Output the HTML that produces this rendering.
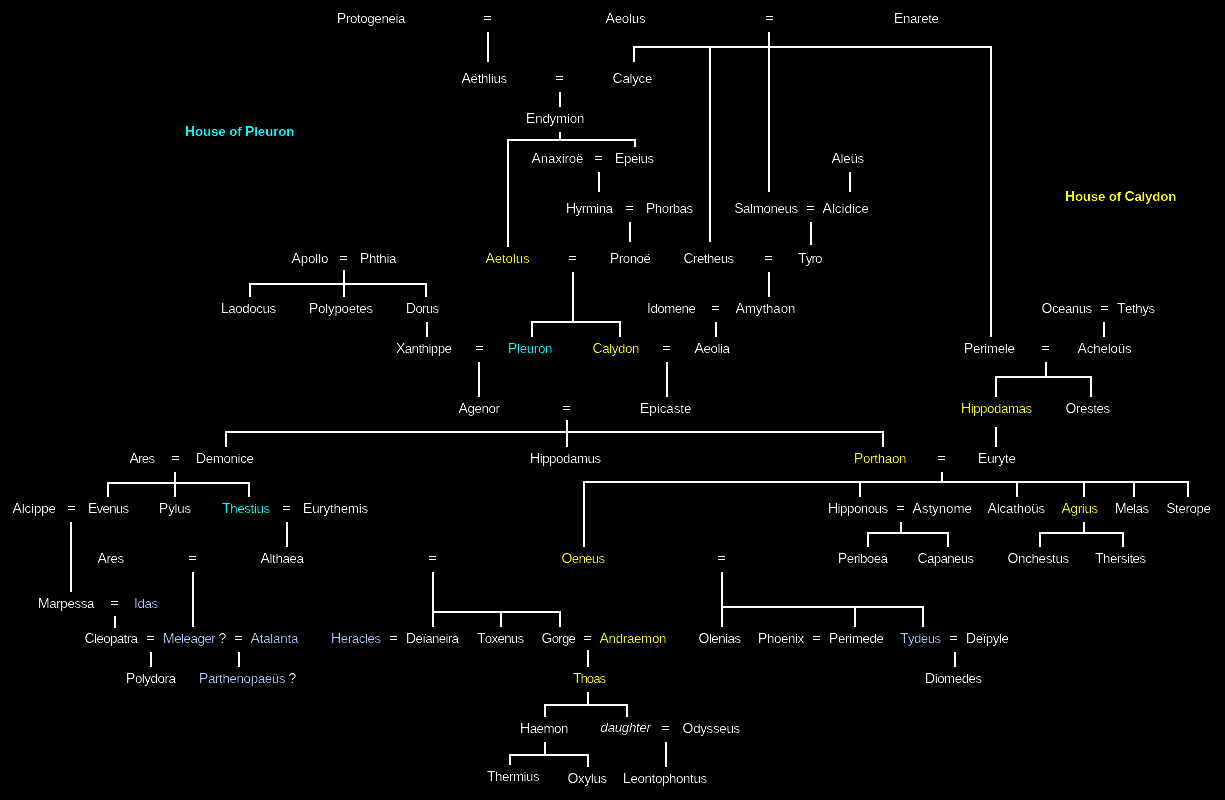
<!DOCTYPE html>
<html><head><meta charset="utf-8"><title>Houses of Pleuron and Calydon</title>
<style>
html,body{margin:0;padding:0;background:#000;}
body{width:1225px;height:800px;position:relative;overflow:hidden;font-family:"Liberation Sans",sans-serif;font-size:13.33px;color:#fff;}
.t{position:absolute;white-space:nowrap;line-height:20px;height:20px;}
.t b{font-weight:inherit;font-size:14px;}
.b{font-weight:bold;}
.i{font-style:italic;}
.w{color:#fff;}
#txt{position:absolute;left:0;top:0;width:1225px;height:800px;will-change:transform;filter:url(#th);}
.e{position:absolute;width:7px;height:2px;border-top:1px solid #fff;border-bottom:1px solid #fff;}
.l{position:absolute;background:#fff;}
</style></head><body>
<svg width="0" height="0" style="position:absolute"><filter id="th" x="0" y="0" width="100%" height="100%" color-interpolation-filters="sRGB"><feComponentTransfer><feFuncA type="gamma" amplitude="1.3" exponent="2.5" offset="0"/></feComponentTransfer></filter></svg>
<!-- connector lines -->
<div class="l" style="left:487px;top:32px;width:2px;height:30px"></div>
<div class="l" style="left:559px;top:92px;width:2px;height:15px"></div>
<div class="l" style="left:559px;top:132px;width:2px;height:9px"></div>
<div class="l" style="left:507px;top:139px;width:2px;height:108px"></div>
<div class="l" style="left:634px;top:139px;width:2px;height:8px"></div>
<div class="l" style="left:598px;top:172px;width:2px;height:20px"></div>
<div class="l" style="left:629px;top:222px;width:2px;height:20px"></div>
<div class="l" style="left:768px;top:32px;width:2px;height:160px"></div>
<div class="l" style="left:633px;top:46px;width:2px;height:16px"></div>
<div class="l" style="left:709px;top:46px;width:2px;height:196px"></div>
<div class="l" style="left:990px;top:46px;width:2px;height:291px"></div>
<div class="l" style="left:849px;top:172px;width:2px;height:20px"></div>
<div class="l" style="left:810px;top:222px;width:2px;height:23px"></div>
<div class="l" style="left:768px;top:272px;width:2px;height:25px"></div>
<div class="l" style="left:715px;top:322px;width:2px;height:15px"></div>
<div class="l" style="left:343px;top:270px;width:2px;height:27px"></div>
<div class="l" style="left:249px;top:283px;width:2px;height:14px"></div>
<div class="l" style="left:425px;top:283px;width:2px;height:14px"></div>
<div class="l" style="left:426px;top:322px;width:2px;height:15px"></div>
<div class="l" style="left:478px;top:362px;width:2px;height:35px"></div>
<div class="l" style="left:572px;top:272px;width:2px;height:50px"></div>
<div class="l" style="left:531px;top:321px;width:2px;height:16px"></div>
<div class="l" style="left:619px;top:321px;width:2px;height:16px"></div>
<div class="l" style="left:666px;top:362px;width:2px;height:35px"></div>
<div class="l" style="left:566px;top:420px;width:2px;height:27px"></div>
<div class="l" style="left:225px;top:431px;width:2px;height:16px"></div>
<div class="l" style="left:882px;top:431px;width:2px;height:16px"></div>
<div class="l" style="left:1103px;top:322px;width:2px;height:15px"></div>
<div class="l" style="left:1045px;top:362px;width:2px;height:16px"></div>
<div class="l" style="left:995px;top:376px;width:2px;height:21px"></div>
<div class="l" style="left:1090px;top:376px;width:2px;height:21px"></div>
<div class="l" style="left:995px;top:427px;width:2px;height:20px"></div>
<div class="l" style="left:941px;top:472px;width:2px;height:11px"></div>
<div class="l" style="left:583px;top:481px;width:2px;height:66px"></div>
<div class="l" style="left:859px;top:481px;width:2px;height:16px"></div>
<div class="l" style="left:1016px;top:481px;width:2px;height:16px"></div>
<div class="l" style="left:1083px;top:481px;width:2px;height:16px"></div>
<div class="l" style="left:1133px;top:481px;width:2px;height:16px"></div>
<div class="l" style="left:1187px;top:481px;width:2px;height:16px"></div>
<div class="l" style="left:174px;top:472px;width:2px;height:25px"></div>
<div class="l" style="left:107px;top:482px;width:2px;height:15px"></div>
<div class="l" style="left:248px;top:482px;width:2px;height:15px"></div>
<div class="l" style="left:70px;top:522px;width:2px;height:70px"></div>
<div class="l" style="left:286px;top:522px;width:2px;height:25px"></div>
<div class="l" style="left:192px;top:572px;width:2px;height:55px"></div>
<div class="l" style="left:114px;top:616px;width:2px;height:12px"></div>
<div class="l" style="left:150px;top:652px;width:2px;height:15px"></div>
<div class="l" style="left:238px;top:652px;width:2px;height:15px"></div>
<div class="l" style="left:432px;top:572px;width:2px;height:55px"></div>
<div class="l" style="left:500px;top:611px;width:2px;height:16px"></div>
<div class="l" style="left:559px;top:611px;width:2px;height:16px"></div>
<div class="l" style="left:721px;top:572px;width:2px;height:55px"></div>
<div class="l" style="left:854px;top:606px;width:2px;height:21px"></div>
<div class="l" style="left:922px;top:606px;width:2px;height:21px"></div>
<div class="l" style="left:900px;top:522px;width:2px;height:12px"></div>
<div class="l" style="left:867px;top:532px;width:2px;height:15px"></div>
<div class="l" style="left:947px;top:532px;width:2px;height:15px"></div>
<div class="l" style="left:1083px;top:522px;width:2px;height:12px"></div>
<div class="l" style="left:1039px;top:532px;width:2px;height:15px"></div>
<div class="l" style="left:1122px;top:532px;width:2px;height:15px"></div>
<div class="l" style="left:587px;top:650px;width:2px;height:17px"></div>
<div class="l" style="left:587px;top:692px;width:2px;height:14px"></div>
<div class="l" style="left:544px;top:704px;width:2px;height:13px"></div>
<div class="l" style="left:626px;top:704px;width:2px;height:13px"></div>
<div class="l" style="left:544px;top:742px;width:2px;height:14px"></div>
<div class="l" style="left:509px;top:754px;width:2px;height:11px"></div>
<div class="l" style="left:587px;top:754px;width:2px;height:13px"></div>
<div class="l" style="left:665px;top:742px;width:2px;height:25px"></div>
<div class="l" style="left:954px;top:652px;width:2px;height:15px"></div>
<div class="l" style="left:507px;top:139px;width:129px;height:2px"></div>
<div class="l" style="left:633px;top:46px;width:359px;height:2px"></div>
<div class="l" style="left:249px;top:283px;width:178px;height:2px"></div>
<div class="l" style="left:531px;top:321px;width:90px;height:2px"></div>
<div class="l" style="left:225px;top:431px;width:659px;height:2px"></div>
<div class="l" style="left:995px;top:376px;width:97px;height:2px"></div>
<div class="l" style="left:583px;top:481px;width:606px;height:2px"></div>
<div class="l" style="left:107px;top:482px;width:143px;height:2px"></div>
<div class="l" style="left:432px;top:611px;width:129px;height:2px"></div>
<div class="l" style="left:721px;top:606px;width:203px;height:2px"></div>
<div class="l" style="left:867px;top:532px;width:82px;height:2px"></div>
<div class="l" style="left:1039px;top:532px;width:85px;height:2px"></div>
<div class="l" style="left:544px;top:704px;width:84px;height:2px"></div>
<div class="l" style="left:509px;top:754px;width:80px;height:2px"></div>
<!-- marriage signs -->
<div class="e" style="left:484px;top:16px"></div>
<div class="e" style="left:766px;top:16px"></div>
<div class="e" style="left:556px;top:76px"></div>
<div class="e" style="left:595px;top:156px"></div>
<div class="e" style="left:626px;top:206px"></div>
<div class="e" style="left:807px;top:206px"></div>
<div class="e" style="left:340px;top:256px"></div>
<div class="e" style="left:569px;top:256px"></div>
<div class="e" style="left:765px;top:256px"></div>
<div class="e" style="left:712px;top:306px"></div>
<div class="e" style="left:1101px;top:306px"></div>
<div class="e" style="left:476px;top:346px"></div>
<div class="e" style="left:663px;top:346px"></div>
<div class="e" style="left:1042px;top:346px"></div>
<div class="e" style="left:563px;top:406px"></div>
<div class="e" style="left:172px;top:456px"></div>
<div class="e" style="left:938px;top:456px"></div>
<div class="e" style="left:68px;top:506px"></div>
<div class="e" style="left:283px;top:506px"></div>
<div class="e" style="left:897px;top:506px"></div>
<div class="e" style="left:189px;top:556px"></div>
<div class="e" style="left:429px;top:556px"></div>
<div class="e" style="left:718px;top:556px"></div>
<div class="e" style="left:111px;top:601px"></div>
<div class="e" style="left:147px;top:636px"></div>
<div class="e" style="left:235px;top:636px"></div>
<div class="e" style="left:390px;top:636px"></div>
<div class="e" style="left:584px;top:636px"></div>
<div class="e" style="left:813px;top:636px"></div>
<div class="e" style="left:950px;top:636px"></div>
<div class="e" style="left:662px;top:726px"></div>
<!-- names -->
<div id="txt">
<div class="t" style="left:337.00px;top:8px;letter-spacing:-0.392px;"><b>P</b>rotogeneia</div>
<div class="t" style="left:605.55px;top:8px;letter-spacing:-0.217px;"><b>A</b>eolus</div>
<div class="t" style="left:894.00px;top:8px;letter-spacing:-0.369px;"><b>E</b>narete</div>
<div class="t" style="left:461.55px;top:68px;letter-spacing:-0.321px;"><b>A</b>ëthlius</div>
<div class="t" style="left:612.55px;top:68px;letter-spacing:-0.272px;"><b>C</b>alyce</div>
<div class="t" style="left:526.00px;top:108px;letter-spacing:-0.186px;"><b>E</b>ndymion</div>
<div class="t b" style="left:185.00px;top:121px;color:#00ffff;letter-spacing:-0.128px;"><b>H</b>ouse of <b>P</b>leuron</div>
<div class="t" style="left:531.55px;top:148px;letter-spacing:-0.170px;"><b>A</b>naxiroë</div>
<div class="t" style="left:615.00px;top:148px;letter-spacing:-0.407px;"><b>E</b>peius</div>
<div class="t" style="left:831.55px;top:148px;letter-spacing:-0.293px;"><b>A</b>leüs</div>
<div class="t b" style="left:1065.00px;top:186px;color:#ffff00;letter-spacing:-0.195px;"><b>H</b>ouse of <b>C</b>alydon</div>
<div class="t" style="left:566.00px;top:198px;letter-spacing:-0.531px;"><b>H</b>yrmina</div>
<div class="t" style="left:646.00px;top:198px;letter-spacing:-0.488px;"><b>P</b>horbas</div>
<div class="t" style="left:734.15px;top:198px;letter-spacing:-0.389px;"><b>S</b>almoneus</div>
<div class="t" style="left:822.55px;top:198px;letter-spacing:-0.002px;"><b>A</b>lcidice</div>
<div class="t" style="left:291.55px;top:248px;letter-spacing:-0.127px;"><b>A</b>pollo</div>
<div class="t" style="left:360.00px;top:248px;letter-spacing:-0.365px;"><b>P</b>hthia</div>
<div class="t" style="left:485.55px;top:248px;color:#ffff00;letter-spacing:-0.132px;"><b>A</b>etolus</div>
<div class="t" style="left:610.00px;top:248px;letter-spacing:-0.503px;"><b>P</b>ronoë</div>
<div class="t" style="left:683.55px;top:248px;letter-spacing:-0.565px;"><b>C</b>retheus</div>
<div class="t" style="left:798.00px;top:248px;letter-spacing:-0.885px;"><b>T</b>yro</div>
<div class="t" style="left:221.00px;top:298px;letter-spacing:-0.430px;"><b>L</b>aodocus</div>
<div class="t" style="left:309.00px;top:298px;letter-spacing:-0.248px;"><b>P</b>olypoetes</div>
<div class="t" style="left:406.00px;top:298px;letter-spacing:-0.718px;"><b>D</b>orus</div>
<div class="t" style="left:647.00px;top:298px;letter-spacing:-0.524px;"><b>I</b>domene</div>
<div class="t" style="left:735.55px;top:298px;letter-spacing:-0.085px;"><b>A</b>mythaon</div>
<div class="t" style="left:1041.55px;top:298px;letter-spacing:-0.542px;"><b>O</b>ceanus</div>
<div class="t" style="left:1117.00px;top:298px;letter-spacing:-0.449px;"><b>T</b>ethys</div>
<div class="t" style="left:396.00px;top:338px;letter-spacing:-0.571px;"><b>X</b>anthippe</div>
<div class="t" style="left:508.00px;top:338px;color:#00ffff;letter-spacing:-0.329px;"><b>P</b>leuron</div>
<div class="t" style="left:592.55px;top:338px;color:#ffff00;letter-spacing:-0.420px;"><b>C</b>alydon</div>
<div class="t" style="left:694.55px;top:338px;letter-spacing:-0.427px;"><b>A</b>eolia</div>
<div class="t" style="left:964.00px;top:338px;letter-spacing:-0.304px;"><b>P</b>erimele</div>
<div class="t" style="left:1077.55px;top:338px;letter-spacing:-0.166px;"><b>A</b>cheloüs</div>
<div class="t" style="left:458.55px;top:398px;letter-spacing:-0.408px;"><b>A</b>genor</div>
<div class="t" style="left:640.00px;top:398px;letter-spacing:-0.022px;"><b>E</b>picaste</div>
<div class="t" style="left:961.00px;top:398px;color:#ffff00;letter-spacing:-0.461px;"><b>H</b>ippodamas</div>
<div class="t" style="left:1065.55px;top:398px;letter-spacing:-0.428px;"><b>O</b>restes</div>
<div class="t" style="left:129.55px;top:448px;letter-spacing:-0.746px;"><b>A</b>res</div>
<div class="t" style="left:196.00px;top:448px;letter-spacing:-0.368px;"><b>D</b>emonice</div>
<div class="t" style="left:530.00px;top:448px;letter-spacing:-0.461px;"><b>H</b>ippodamus</div>
<div class="t" style="left:854.00px;top:448px;color:#ffff00;letter-spacing:-0.304px;"><b>P</b>orthaon</div>
<div class="t" style="left:978.00px;top:448px;letter-spacing:-0.211px;"><b>E</b>uryte</div>
<div class="t" style="left:12.55px;top:498px;letter-spacing:-0.133px;"><b>A</b>lcippe</div>
<div class="t" style="left:88.00px;top:498px;letter-spacing:-0.748px;"><b>E</b>venus</div>
<div class="t" style="left:159.00px;top:498px;letter-spacing:-0.219px;"><b>P</b>ylus</div>
<div class="t" style="left:222.00px;top:498px;color:#00ffff;letter-spacing:-0.374px;"><b>T</b>hestius</div>
<div class="t" style="left:303.00px;top:498px;letter-spacing:-0.216px;"><b>E</b>urythemis</div>
<div class="t" style="left:828.00px;top:498px;letter-spacing:-0.506px;"><b>H</b>ipponous</div>
<div class="t" style="left:912.55px;top:498px;letter-spacing:-0.049px;"><b>A</b>stynome</div>
<div class="t" style="left:987.55px;top:498px;letter-spacing:-0.171px;"><b>A</b>lcathoüs</div>
<div class="t" style="left:1061.55px;top:498px;color:#ffff00;letter-spacing:-0.322px;"><b>A</b>grius</div>
<div class="t" style="left:1115.00px;top:498px;letter-spacing:-0.487px;"><b>M</b>elas</div>
<div class="t" style="left:1166.15px;top:498px;letter-spacing:-0.394px;"><b>S</b>terope</div>
<div class="t" style="left:97.55px;top:548px;letter-spacing:-0.413px;"><b>A</b>res</div>
<div class="t" style="left:260.55px;top:548px;letter-spacing:-0.382px;"><b>A</b>lthaea</div>
<div class="t" style="left:561.55px;top:548px;color:#ffff00;letter-spacing:-0.718px;"><b>O</b>eneus</div>
<div class="t" style="left:838.00px;top:548px;letter-spacing:-0.555px;"><b>P</b>eriboea</div>
<div class="t" style="left:917.55px;top:548px;letter-spacing:-0.662px;"><b>C</b>apaneus</div>
<div class="t" style="left:1007.55px;top:548px;letter-spacing:-0.328px;"><b>O</b>nchestus</div>
<div class="t" style="left:1095.00px;top:548px;letter-spacing:-0.507px;"><b>T</b>hersites</div>
<div class="t" style="left:38.00px;top:593px;letter-spacing:-0.381px;"><b>M</b>arpessa</div>
<div class="t" style="left:134.00px;top:593px;color:#aaccff;letter-spacing:-0.405px;"><b>I</b>das</div>
<div class="t" style="left:84.55px;top:628px;letter-spacing:-0.614px;"><b>C</b>leopatra</div>
<div class="t" style="left:163.00px;top:628px;color:#aaccff;letter-spacing:-0.481px;"><b>M</b>eleager<span class="w"> <b>?</b></span></div>
<div class="t" style="left:250.55px;top:628px;color:#aaccff;letter-spacing:-0.213px;"><b>A</b>talanta</div>
<div class="t" style="left:331.00px;top:628px;color:#aaccff;letter-spacing:-0.416px;"><b>H</b>eracles</div>
<div class="t" style="left:406.00px;top:628px;letter-spacing:-0.670px;"><b>D</b>eïaneira</div>
<div class="t" style="left:477.00px;top:628px;letter-spacing:-0.728px;"><b>T</b>oxenus</div>
<div class="t" style="left:541.55px;top:628px;letter-spacing:-0.801px;"><b>G</b>orge</div>
<div class="t" style="left:599.55px;top:628px;color:#ffff00;letter-spacing:-0.311px;"><b>A</b>ndraemon</div>
<div class="t" style="left:698.55px;top:628px;letter-spacing:-0.517px;"><b>O</b>lenias</div>
<div class="t" style="left:758.00px;top:628px;letter-spacing:-0.408px;"><b>P</b>hoenix</div>
<div class="t" style="left:829.00px;top:628px;letter-spacing:-0.368px;"><b>P</b>erimede</div>
<div class="t" style="left:900.00px;top:628px;color:#aaccff;letter-spacing:-0.591px;"><b>T</b>ydeus</div>
<div class="t" style="left:966.00px;top:628px;letter-spacing:-0.461px;"><b>D</b>eïpyle</div>
<div class="t" style="left:126.00px;top:668px;letter-spacing:-0.448px;"><b>P</b>olydora</div>
<div class="t" style="left:199.00px;top:668px;color:#aaccff;letter-spacing:-0.361px;"><b>P</b>arthenopaeüs<span class="w"> <b>?</b></span></div>
<div class="t" style="left:573.00px;top:668px;color:#ffff00;letter-spacing:-1.072px;"><b>T</b>hoas</div>
<div class="t" style="left:925.00px;top:668px;letter-spacing:-0.475px;"><b>D</b>iomedes</div>
<div class="t" style="left:520.00px;top:718px;letter-spacing:-0.490px;"><b>H</b>aemon</div>
<div class="t i" style="left:600.55px;top:718px;letter-spacing:-0.318px;">daughter</div>
<div class="t" style="left:682.55px;top:718px;letter-spacing:-0.310px;"><b>O</b>dysseus</div>
<div class="t" style="left:487.00px;top:766px;letter-spacing:-0.470px;"><b>T</b>hermius</div>
<div class="t" style="left:567.55px;top:768px;letter-spacing:-0.328px;"><b>O</b>xylus</div>
<div class="t" style="left:623.00px;top:768px;letter-spacing:-0.367px;"><b>L</b>eontophontus</div>
</div>
</body></html>
